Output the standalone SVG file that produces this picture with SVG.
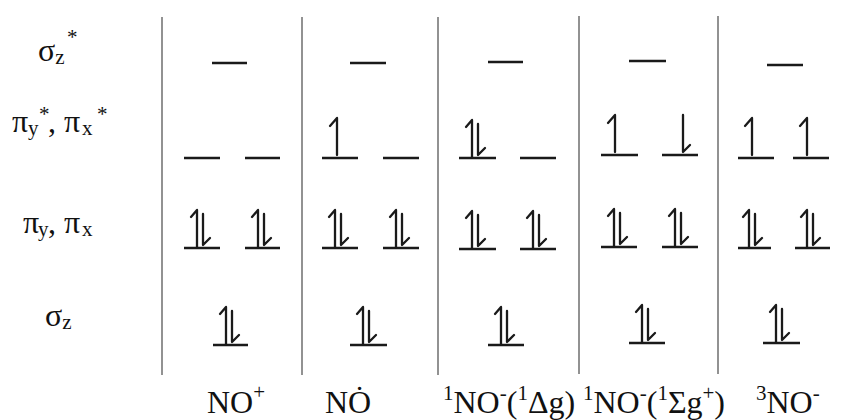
<svg xmlns="http://www.w3.org/2000/svg" xmlns:xlink="http://www.w3.org/1999/xlink" width="841" height="420" viewBox="0 0 841 420">
<style>
.t{font-family:"Liberation Serif","Times New Roman",serif;font-size:32px;fill:#111}
.s{font-size:21px}
.sep{stroke:#777;stroke-width:1.6}
.lv{stroke:#1a1a1a;stroke-width:2.5}
.e{stroke:#1a1a1a;stroke-width:2.3;fill:none;stroke-linecap:round;stroke-linejoin:round}
</style>
<defs>
<g id="up" class="e"><path d="M-4,-3 V-40 L-11,-32"/></g>
<g id="dn" class="e"><path d="M3,-40 V-3 L10,-10"/></g>
<g id="pair" class="e"><path d="M-5,-1 V-38 L-11,-31"/><path d="M1,-34 V-3 L8,-10"/></g>
</defs>
<rect width="841" height="420" fill="#fff"/>
<g id="separators">
<line class="sep" x1="162" y1="17" x2="162" y2="375"/>
<line class="sep" x1="302" y1="17" x2="302" y2="375"/>
<line class="sep" x1="438" y1="17" x2="438" y2="375"/>
<line class="sep" x1="579" y1="16" x2="579" y2="374"/>
<line class="sep" x1="718" y1="16" x2="718" y2="374"/>
</g>
<g id="row-labels" class="t">
<text x="38" y="61">σ<tspan class="s" dy="3">z</tspan><tspan class="s" x="67" y="44">*</tspan></text>
<text x="12" y="132">π<tspan class="s" x="28" y="135">y</tspan><tspan class="s" x="39" y="121">*</tspan><tspan x="48" y="132">, π</tspan><tspan class="s" x="82" y="135">x</tspan><tspan class="s" x="97" y="121">*</tspan></text>
<text x="23" y="233">π<tspan class="s" x="38" y="236">y</tspan><tspan x="48" y="233">, π</tspan><tspan class="s" x="82" y="236">x</tspan></text>
<text x="45" y="326">σ<tspan class="s" dy="3">z</tspan></text>
</g>
<g id="col-NOplus">
<line class="lv" x1="212" y1="63" x2="247" y2="63"/>
<line class="lv" x1="184" y1="158" x2="220" y2="158"/>
<line class="lv" x1="245" y1="158" x2="280" y2="158"/>
<line class="lv" x1="184" y1="248" x2="220" y2="248"/>
<line class="lv" x1="245" y1="248" x2="280" y2="248"/>
<line class="lv" x1="213" y1="345" x2="248" y2="345"/>
<use xlink:href="#pair" x="202" y="248"/>
<use xlink:href="#pair" x="263" y="248"/>
<use xlink:href="#pair" x="231" y="345"/>
<text class="t" x="207" y="413">NO<tspan class="s" dy="-14">+</tspan></text>
</g>
<g id="col-NOradical">
<line class="lv" x1="350" y1="63" x2="386" y2="63"/>
<line class="lv" x1="322" y1="158" x2="358" y2="158"/>
<line class="lv" x1="383" y1="158" x2="419" y2="158"/>
<line class="lv" x1="322" y1="248" x2="358" y2="248"/>
<line class="lv" x1="383" y1="248" x2="419" y2="248"/>
<line class="lv" x1="350" y1="345" x2="387" y2="345"/>
<use xlink:href="#up" x="341" y="158"/>
<use xlink:href="#pair" x="340" y="248"/>
<use xlink:href="#pair" x="401" y="248"/>
<use xlink:href="#pair" x="368" y="345"/>
<text class="t" x="325" y="413">NȮ</text>
</g>
<g id="col-1NO-Dg">
<line class="lv" x1="488" y1="62" x2="523" y2="62"/>
<line class="lv" x1="459" y1="158" x2="496" y2="158"/>
<line class="lv" x1="520" y1="158" x2="556" y2="158"/>
<line class="lv" x1="459" y1="249" x2="496" y2="249"/>
<line class="lv" x1="520" y1="249" x2="556" y2="249"/>
<line class="lv" x1="488" y1="345" x2="524" y2="345"/>
<use xlink:href="#pair" x="477" y="158"/>
<use xlink:href="#pair" x="477" y="249"/>
<use xlink:href="#pair" x="538" y="249"/>
<use xlink:href="#pair" x="506" y="345"/>
<text class="t" x="443" y="413"><tspan class="s" dy="-13">1</tspan><tspan dy="13">NO</tspan><tspan class="s" dy="-13">-</tspan><tspan dy="13">(</tspan><tspan class="s" dy="-13">1</tspan><tspan dy="13">Δg)</tspan></text>
</g>
<g id="col-1NO-Sg">
<line class="lv" x1="629" y1="61" x2="666" y2="61"/>
<line class="lv" x1="601" y1="155" x2="638" y2="155"/>
<line class="lv" x1="662" y1="155" x2="698" y2="155"/>
<line class="lv" x1="601" y1="247" x2="637" y2="247"/>
<line class="lv" x1="662" y1="247" x2="698" y2="247"/>
<line class="lv" x1="629" y1="343" x2="665" y2="343"/>
<use xlink:href="#up" x="619" y="155"/>
<use xlink:href="#dn" x="680" y="155"/>
<use xlink:href="#pair" x="619" y="247"/>
<use xlink:href="#pair" x="680" y="247"/>
<use xlink:href="#pair" x="647" y="343"/>
<text class="t" x="583" y="413"><tspan class="s" dy="-13">1</tspan><tspan dy="13">NO</tspan><tspan class="s" dy="-13">-</tspan><tspan dy="13">(</tspan><tspan class="s" dy="-13">1</tspan><tspan dy="13">Σg</tspan><tspan class="s" dy="-13">+</tspan><tspan dy="13">)</tspan></text>
</g>
<g id="col-3NO">
<line class="lv" x1="767" y1="65" x2="803" y2="65"/>
<line class="lv" x1="738" y1="158" x2="774" y2="158"/>
<line class="lv" x1="793" y1="158" x2="829" y2="158"/>
<line class="lv" x1="738" y1="248" x2="771" y2="248"/>
<line class="lv" x1="795" y1="248" x2="830" y2="248"/>
<line class="lv" x1="763" y1="343" x2="800" y2="343"/>
<use xlink:href="#up" x="756" y="158"/>
<use xlink:href="#up" x="811" y="158"/>
<use xlink:href="#pair" x="754" y="248"/>
<use xlink:href="#pair" x="812" y="248"/>
<use xlink:href="#pair" x="781" y="343"/>
<text class="t" x="756" y="413"><tspan class="s" dy="-13">3</tspan><tspan dy="13">NO</tspan><tspan class="s" dy="-13">-</tspan></text>
</g>
</svg>
